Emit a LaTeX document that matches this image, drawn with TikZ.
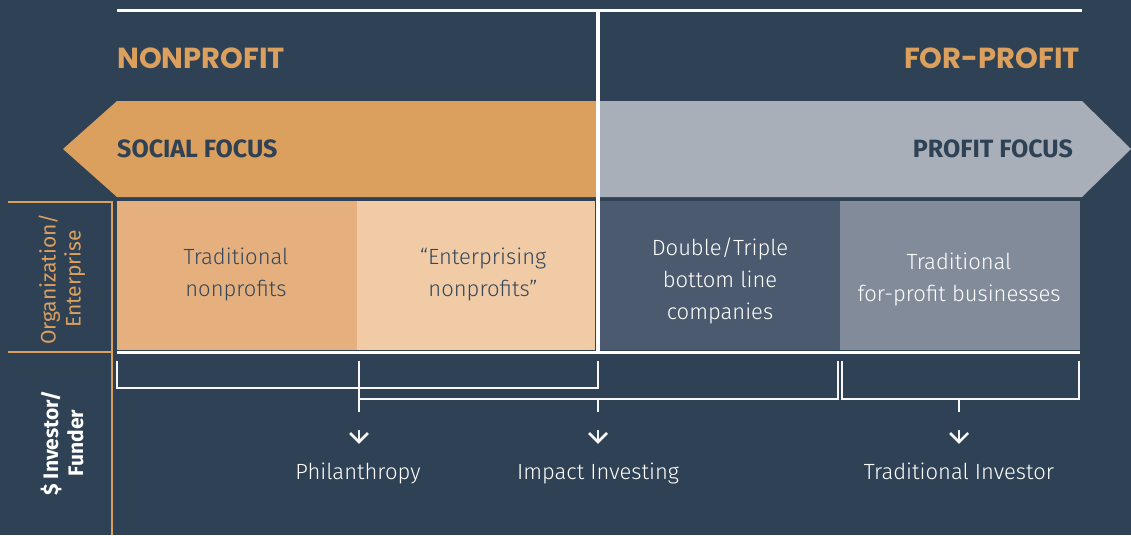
\documentclass[tikz,border=0pt]{standalone}
\usepackage{fontspec}
\setmainfont{Fira Sans}
\newfontfamily\lightf{Fira Sans}[UprightFont={* Light}]
\newfontfamily\headf{Poppins}
\definecolor{bg}{HTML}{2F4154}
\definecolor{orangeA}{HTML}{DBA05E}
\definecolor{grayA}{HTML}{A8AFB9}
\definecolor{bA}{HTML}{E5B07E}
\definecolor{bB}{HTML}{F0CBA6}
\definecolor{bC}{HTML}{4B5A6E}
\definecolor{bD}{HTML}{828B9A}
\definecolor{darktxt}{HTML}{34475B}
\begin{document}
\begin{tikzpicture}[x=1pt,y=-1pt,
  box/.style={anchor=north west, inner sep=0pt, minimum height=149pt},
  btxt/.style={inner sep=0pt, align=center, anchor=base, font=\lightf\fontsize{22}{32}\selectfont},
  head/.style={inner sep=0pt, text=orangeA, font=\headf\bfseries\fontsize{29}{30}\selectfont},
  focus/.style={inner sep=0pt, text=bg, font=\bfseries\fontsize{25}{28}\selectfont},
  brk/.style={draw=white!94!gray, line width=2.5pt},
  lbl/.style={inner sep=0pt, text=white, font=\lightf\fontsize{22}{26}\selectfont},
  side/.style={rotate=90, inner sep=0pt, align=center, font=\fontsize{21}{25}\selectfont}]
\fill[bg] (0,0) rectangle (1131,535);
\useasboundingbox (0,0) rectangle (1131,535);

% focus arrows
\fill[orangeA] (598,101) -- (117,101) -- (63,149) -- (117,197) -- (598,197) -- cycle;
\fill[grayA] (598,101) -- (1082,101) -- (1131,149) -- (1082,197) -- (598,197) -- cycle;
\node[focus, anchor=base west] (social) at (117,157) {SOCIAL FOCUS};
\node[focus, anchor=base east] (profit) at (1073,157) {PROFIT FOCUS};

% headings
\node[head, anchor=base west] (np) at (117,68) {NONPROFIT};
\node[head, anchor=base east] (fp) at (1080,68) {FOR-PROFIT};

% boxes
\node[box, fill=bA, minimum width=240pt] (b1) at (117,201) {};
\node[box, fill=bB, minimum width=238pt] (b2) at (357,201) {};
\node[box, fill=bC, minimum width=240pt] (b3) at (600,201) {};
\node[box, fill=bD, minimum width=240pt] (b4) at (840,201) {};
\node[btxt, text=darktxt] (t1) at (236,296) {Traditional\\nonprofits};
\node[btxt, text=darktxt] (t2) at (483,296) {“Enterprising\\nonprofits”};
\node[btxt, text=white] (t3) at (720,319) {Double/Triple\\bottom line\\companies};
\node[btxt, text=white] (t4) at (959,301) {Traditional\\for-profit businesses};

% white structure lines
\coordinate (topL) at (117,11);
\coordinate (topR) at (1082,11);
\coordinate (midT) at (597.5,11);
\coordinate (midB) at (597.5,352);
\coordinate (baseL) at (117,352.5);
\coordinate (baseR) at (1080,352.5);
\draw[white, line width=3pt] (topL) -- (topR);
\draw[white, line width=2.5pt] (baseL) -- (baseR);
\draw[white, line width=4pt] (midT) -- (midB);

% side frame
\draw[orangeA, line width=2.5pt] (8,202) -- (112,202) -- (112,535);
\draw[orangeA, line width=2.5pt] (8,352) -- (112,352);
\node[side, text=orangeA] (org) at (62,279) {Organization/\\Enterprise};
\node[side, text=white, font=\bfseries\fontsize{21}{25}\selectfont] (inv) at (62,443) {\$ Investor/\\Funder};

% brackets
\draw[brk] (117,361) -- (117,388) -- (598,388) -- (598,361);
\draw[brk] (359,361) -- (359,412);
\draw[brk] (359,399) -- (838,399) -- (838,361);
\draw[brk] (598,399) -- (598,412);
\draw[brk] (842,361) -- (842,399) -- (1079,399) -- (1079,361);
\draw[brk] (959,399) -- (959,412);

% labels
\node[lbl, anchor=base] (phil) at (358,479) {Philanthropy};
\node[lbl, anchor=base] (imp) at (598,479) {Impact Investing};
\node[lbl, anchor=base] (trad) at (959,479) {Traditional Investor};

% down chevrons
\foreach \x/\n in {359/phil,598/imp,959/trad}{
  \coordinate (s\n) at (\x,430);
  \coordinate (e\n) at (\x,442);
  \draw[brk] (s\n) -- (e\n);
  \draw[brk, line join=miter] (\x-9,433) -- (e\n) -- (\x+9,433);
}
\end{tikzpicture}
\end{document}
